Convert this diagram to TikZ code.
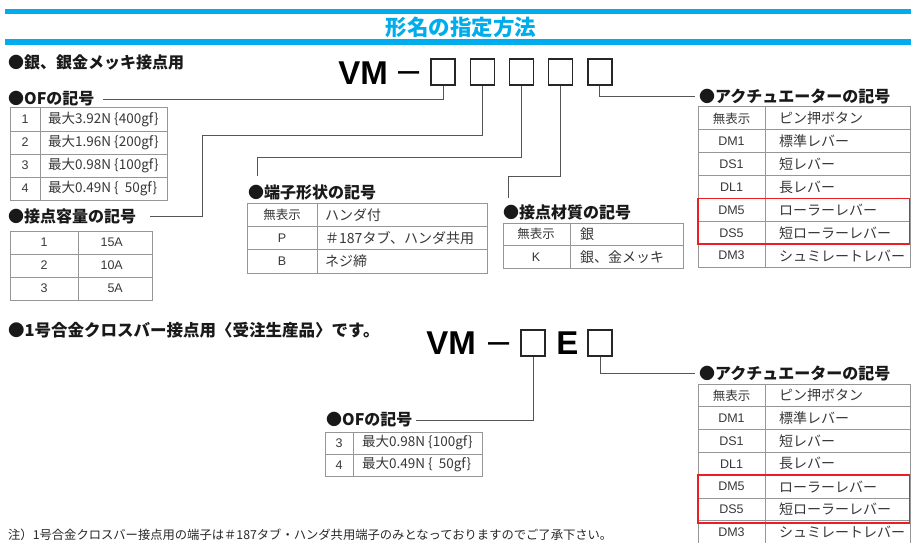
\documentclass[tikz,border=0pt]{standalone}
\usepackage{fontspec}
\setmainfont{Liberation Sans}
\newfontfamily\jp{Noto Sans CJK JP}
\definecolor{cyanb}{RGB}{0,172,236}
\definecolor{tline}{RGB}{150,150,150}
\definecolor{ttext}{RGB}{55,55,55}
\definecolor{lead}{RGB}{85,85,85}
\definecolor{redb}{RGB}{235,30,35}
\tikzset{
 hdr/.style={anchor=west, inner sep=0pt, font=\jp\bfseries\fontsize{16}{17}\selectfont, text=black!90},
 cella/.style={inner sep=0pt, anchor=center, font=\fontsize{12.5}{13}\selectfont, text=ttext},
 cellb/.style={inner sep=0pt, anchor=west, font=\jp\fontsize{14}{15}\selectfont, text=ttext},
 cellof/.style={cellb, font=\jp\fontsize{13.5}{14}\selectfont},
 grid/.style={draw=tline, line width=1pt},
 leader/.style={draw=lead, line width=0.9pt},
 cbox/.style={draw=black!85, line width=1.4pt, minimum width=24pt, minimum height=26pt, inner sep=0pt},
 big/.style={font=\bfseries\fontsize{33}{33}\selectfont, inner sep=0pt},
 dashsym/.style={font=\fontsize{38}{38}\selectfont, inner sep=0pt, anchor=base},
 redbox/.style={draw=redb, line width=1.6pt},
 bar/.style={fill=cyanb},
}
\begin{document}
\begin{tikzpicture}[x=1pt,y=-1pt]
\path[use as bounding box] (0,0) rectangle (911,543);
\clip (0,0) rectangle (911,543);
% title bars
\fill[bar] (5,9) rectangle (911,14);
\fill[bar] (5,39) rectangle (911,45);
\node[font=\jp\bfseries\fontsize{21.5}{22}\selectfont, text=cyanb, inner sep=0pt] (title) at (461,27) {形名の指定方法};

% ===== Section 1 =====
\node[hdr] (sec1) at (8,62) {●銀、銀金メッキ接点用};
\node[big] (vm1) at (363,73) {VM};
\node[dashsym] (dsh1) at (409,83) {–};
\foreach \i in {1,...,5}
  \node[cbox] (b\i) at ({443+39.2*(\i-1)},72) {};

% OF table
\node[hdr] (lof) at (8,99) {●OFの記号};
\draw[grid] (10,108) rectangle (167,200);
\foreach \y in {131,154,177} \draw[grid] (10,\y) -- (167,\y);
\draw[grid] (40,108) -- (40,200);
\node[cella] (of1a) at (25,119.5) {1};
\node[cellof] (of1b) at (48,119.5) {最大3.92N \{400gf\}};
\node[cella] (of2a) at (25,142.5) {2};
\node[cellof] (of2b) at (48,142.5) {最大1.96N \{200gf\}};
\node[cella] (of3a) at (25,165.5) {3};
\node[cellof] (of3b) at (48,165.5) {最大0.98N \{100gf\}};
\node[cella] (of4a) at (25,188.5) {4};
\node[cellof] (of4b) at (48,188.5) {最大0.49N \{~~50gf\}};

% contact capacity table
\node[hdr] (lcap) at (8,216) {●接点容量の記号};
\draw[grid] (10,231) rectangle (152,300);
\foreach \y in {254,277} \draw[grid] (10,\y) -- (152,\y);
\draw[grid] (78,231) -- (78,300);
\node[cella] (ca1) at (44,242.5) {1};
\node[cella, anchor=east] (cb1) at (123,242.5) {15A};
\node[cella] (ca2) at (44,265.5) {2};
\node[cella, anchor=east] (cb2) at (123,265.5) {10A};
\node[cella] (ca3) at (44,288.5) {3};
\node[cella, anchor=east] (cb3) at (123,288.5) {5A};

% terminal table
\node[hdr] (lterm) at (248,192) {●端子形状の記号};
\draw[grid] (247,203) rectangle (487,273);
\foreach \y in {226.3,249.7} \draw[grid] (247,\y) -- (487,\y);
\draw[grid] (317,203) -- (317,273);
\node[cella] (ta1) at (282,214.7) {\jp 無表示};
\node[cellb] (tb1) at (325,214.7) {ハンダ付};
\node[cella] (ta2) at (282,238) {P};
\node[cellb] (tb2) at (325,238) {＃187タブ、ハンダ共用};
\node[cella] (ta3) at (282,261.3) {B};
\node[cellb] (tb3) at (325,261.3) {ネジ締};

% material table
\node[hdr] (lmat) at (503,212) {●接点材質の記号};
\draw[grid] (503,223) rectangle (683,268);
\draw[grid] (503,245.5) -- (683,245.5);
\draw[grid] (570,223) -- (570,268);
\node[cella] (ma1) at (536,234.2) {\jp 無表示};
\node[cellb] (mb1) at (580,234.2) {銀};
\node[cella] (ma2) at (536,256.7) {K};
\node[cellb] (mb2) at (580,256.7) {銀、金メッキ};

% actuator table 1
\node[hdr] (lact1) at (699,96) {●アクチュエーターの記号};
\draw[grid] (698,107) rectangle (910,267);
\foreach \k in {1,...,6} \draw[grid] (698,{107+22.86*\k}) -- (910,{107+22.86*\k});
\draw[grid] (765,107) -- (765,267);
\foreach \a/\b [count=\i from 0] in {{\jp 無表示}/ピン押ボタン, DM1/標準レバー, DS1/短レバー, DL1/長レバー, DM5/ローラーレバー, DS5/短ローラーレバー, DM3/シュミレートレバー}{
  \node[cella] (a1c\i) at (731.5,{107+22.86*(\i+0.5)}) {\a};
  \node[cellb] (a1d\i) at (779,{107+22.86*(\i+0.5)}) {\b};
}
\draw[redbox] (698,198.4) rectangle (909.5,244.2);

% leaders section 1
\coordinate (c3) at (257,176);
\coordinate (c4) at (508,198);
\draw[leader] (b1.south) |- ([xshift=8pt]lof.east);
\draw[leader] (b2.south) |- (202,135) |- ([xshift=14pt]lcap.east);
\draw[leader] (b3.south) |- (257,157) -- (c3);
\draw[leader] (b4.south) |- (508,176) -- (c4);
\draw[leader] (b5.south) |- ([xshift=-4pt]lact1.west);

% ===== Section 2 =====
\node[hdr, font=\jp\bfseries\fontsize{16.5}{17}\selectfont] (sec2) at (8,330) {●1号合金クロスバー接点用〈受注生産品〉です。};
\node[big] (vm2) at (451,343) {VM};
\node[dashsym] (dsh2) at (499,353) {–};
\node[cbox] (b6) at (533,343) {};
\node[big] (e2) at (567.5,343) {E};
\node[cbox] (b7) at (600,343) {};

% OF table 2
\node[hdr] (lof2) at (326,420) {●OFの記号};
\draw[grid] (325,432) rectangle (482,476);
\draw[grid] (325,454) -- (482,454);
\draw[grid] (353,432) -- (353,476);
\node[cella] (o2a1) at (339,443) {3};
\node[cellof] (o2b1) at (362,443) {最大0.98N \{100gf\}};
\node[cella] (o2a2) at (339,465) {4};
\node[cellof] (o2b2) at (362,465) {最大0.49N \{~~50gf\}};

% actuator table 2
\node[hdr] (lact2) at (699,373) {●アクチュエーターの記号};
\draw[grid] (698,384) rectangle (910,550);
\foreach \k in {1,...,6} \draw[grid] (698,{384+22.8*\k}) -- (910,{384+22.8*\k});
\draw[grid] (765,384) -- (765,550);
\foreach \a/\b [count=\i from 0] in {{\jp 無表示}/ピン押ボタン, DM1/標準レバー, DS1/短レバー, DL1/長レバー, DM5/ローラーレバー, DS5/短ローラーレバー, DM3/シュミレートレバー}{
  \node[cella] (a2c\i) at (731.5,{384+22.8*(\i+0.5)}) {\a};
  \node[cellb] (a2d\i) at (779,{384+22.8*(\i+0.5)}) {\b};
}
\draw[redbox] (698,475.2) rectangle (909.5,522.8);

% leaders section 2
\draw[leader] (b6.south) |- ([xshift=3pt]lof2.east);
\draw[leader] (b7.south) |- ([xshift=-4pt]lact2.west);

% footnote
\node[anchor=west, inner sep=0pt, font=\jp\fontsize{12.3}{13}\selectfont, text=black!85] (note) at (8,535) {注）1号合金クロスバー接点用の端子は＃187タブ・ハンダ共用端子のみとなっておりますのでご了承下さい。};
\end{tikzpicture}
\end{document}
